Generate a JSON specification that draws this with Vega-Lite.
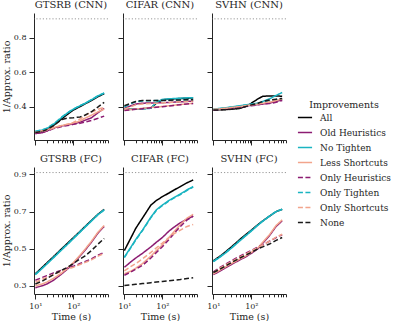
{
"$schema": "https://vega.github.io/schema/vega-lite/v6.json",
"padding": {"left": 1, "top": 0, "right": 0, "bottom": 0},
"config": {
  "font": "DejaVu Serif",
  "view": {"stroke": null},
  "axis": {"grid": false, "domainColor": "#262626", "tickColor": "#262626", "labelColor": "#262626", "titleColor": "#262626", "labelFontSize": 8, "titleFontSize": 9.5, "titleFontWeight": "normal", "tickSize": 5, "labelPadding": 3, "domainWidth": 1, "tickWidth": 1},
  "title": {"font": "DejaVu Serif", "fontSize": 10, "fontWeight": "normal", "offset": 3, "color": "#262626"},
  "style": {"group-title": {"font": "DejaVu Serif", "fontSize": 10, "fontWeight": "normal"}},
  "line": {"strokeWidth": 1.5}
},
"datasets": {"d": [
{"p":"GC","s":"All","t":10,"v":0.25},{"p":"GC","s":"All","t":15,"v":0.258},{"p":"GC","s":"All","t":20,"v":0.268},{"p":"GC","s":"All","t":30,"v":0.29},{"p":"GC","s":"All","t":50,"v":0.33},{"p":"GC","s":"All","t":70,"v":0.355},{"p":"GC","s":"All","t":100,"v":0.38},{"p":"GC","s":"All","t":150,"v":0.4},{"p":"GC","s":"All","t":200,"v":0.415},{"p":"GC","s":"All","t":300,"v":0.435},{"p":"GC","s":"All","t":450,"v":0.458},{"p":"GC","s":"All","t":650,"v":0.475},
{"p":"GC","s":"Old Heuristics","t":10,"v":0.243},{"p":"GC","s":"Old Heuristics","t":15,"v":0.248},{"p":"GC","s":"Old Heuristics","t":20,"v":0.258},{"p":"GC","s":"Old Heuristics","t":30,"v":0.275},{"p":"GC","s":"Old Heuristics","t":50,"v":0.288},{"p":"GC","s":"Old Heuristics","t":70,"v":0.294},{"p":"GC","s":"Old Heuristics","t":100,"v":0.3},{"p":"GC","s":"Old Heuristics","t":150,"v":0.31},{"p":"GC","s":"Old Heuristics","t":200,"v":0.32},{"p":"GC","s":"Old Heuristics","t":300,"v":0.335},{"p":"GC","s":"Old Heuristics","t":450,"v":0.365},{"p":"GC","s":"Old Heuristics","t":650,"v":0.39},
{"p":"GC","s":"No Tighten","t":10,"v":0.255},{"p":"GC","s":"No Tighten","t":15,"v":0.263},{"p":"GC","s":"No Tighten","t":20,"v":0.273},{"p":"GC","s":"No Tighten","t":30,"v":0.297},{"p":"GC","s":"No Tighten","t":50,"v":0.338},{"p":"GC","s":"No Tighten","t":70,"v":0.363},{"p":"GC","s":"No Tighten","t":100,"v":0.385},{"p":"GC","s":"No Tighten","t":150,"v":0.405},{"p":"GC","s":"No Tighten","t":200,"v":0.418},{"p":"GC","s":"No Tighten","t":300,"v":0.44},{"p":"GC","s":"No Tighten","t":450,"v":0.463},{"p":"GC","s":"No Tighten","t":650,"v":0.48},
{"p":"GC","s":"Less Shortcuts","t":10,"v":0.255},{"p":"GC","s":"Less Shortcuts","t":15,"v":0.26},{"p":"GC","s":"Less Shortcuts","t":20,"v":0.265},{"p":"GC","s":"Less Shortcuts","t":30,"v":0.278},{"p":"GC","s":"Less Shortcuts","t":50,"v":0.29},{"p":"GC","s":"Less Shortcuts","t":70,"v":0.297},{"p":"GC","s":"Less Shortcuts","t":100,"v":0.303},{"p":"GC","s":"Less Shortcuts","t":150,"v":0.317},{"p":"GC","s":"Less Shortcuts","t":200,"v":0.332},{"p":"GC","s":"Less Shortcuts","t":300,"v":0.35},{"p":"GC","s":"Less Shortcuts","t":450,"v":0.37},{"p":"GC","s":"Less Shortcuts","t":650,"v":0.385},
{"p":"GC","s":"Only Heuristics","t":10,"v":0.245},{"p":"GC","s":"Only Heuristics","t":15,"v":0.25},{"p":"GC","s":"Only Heuristics","t":20,"v":0.258},{"p":"GC","s":"Only Heuristics","t":30,"v":0.272},{"p":"GC","s":"Only Heuristics","t":50,"v":0.284},{"p":"GC","s":"Only Heuristics","t":70,"v":0.29},{"p":"GC","s":"Only Heuristics","t":100,"v":0.297},{"p":"GC","s":"Only Heuristics","t":150,"v":0.303},{"p":"GC","s":"Only Heuristics","t":200,"v":0.31},{"p":"GC","s":"Only Heuristics","t":300,"v":0.32},{"p":"GC","s":"Only Heuristics","t":450,"v":0.332},{"p":"GC","s":"Only Heuristics","t":650,"v":0.345},
{"p":"GC","s":"Only Tighten","t":10,"v":0.257},{"p":"GC","s":"Only Tighten","t":15,"v":0.265},{"p":"GC","s":"Only Tighten","t":20,"v":0.275},{"p":"GC","s":"Only Tighten","t":30,"v":0.299},{"p":"GC","s":"Only Tighten","t":50,"v":0.34},{"p":"GC","s":"Only Tighten","t":70,"v":0.364},{"p":"GC","s":"Only Tighten","t":100,"v":0.386},{"p":"GC","s":"Only Tighten","t":150,"v":0.406},{"p":"GC","s":"Only Tighten","t":200,"v":0.419},{"p":"GC","s":"Only Tighten","t":300,"v":0.441},{"p":"GC","s":"Only Tighten","t":450,"v":0.462},{"p":"GC","s":"Only Tighten","t":650,"v":0.478},
{"p":"GC","s":"Only Shortcuts","t":10,"v":0.25},{"p":"GC","s":"Only Shortcuts","t":15,"v":0.255},{"p":"GC","s":"Only Shortcuts","t":20,"v":0.262},{"p":"GC","s":"Only Shortcuts","t":30,"v":0.276},{"p":"GC","s":"Only Shortcuts","t":50,"v":0.29},{"p":"GC","s":"Only Shortcuts","t":70,"v":0.298},{"p":"GC","s":"Only Shortcuts","t":100,"v":0.308},{"p":"GC","s":"Only Shortcuts","t":150,"v":0.328},{"p":"GC","s":"Only Shortcuts","t":200,"v":0.348},{"p":"GC","s":"Only Shortcuts","t":300,"v":0.368},{"p":"GC","s":"Only Shortcuts","t":450,"v":0.385},{"p":"GC","s":"Only Shortcuts","t":650,"v":0.395},
{"p":"GC","s":"None","t":10,"v":0.25},{"p":"GC","s":"None","t":15,"v":0.256},{"p":"GC","s":"None","t":20,"v":0.266},{"p":"GC","s":"None","t":30,"v":0.29},{"p":"GC","s":"None","t":50,"v":0.325},{"p":"GC","s":"None","t":70,"v":0.333},{"p":"GC","s":"None","t":100,"v":0.335},{"p":"GC","s":"None","t":150,"v":0.34},{"p":"GC","s":"None","t":200,"v":0.35},{"p":"GC","s":"None","t":300,"v":0.37},{"p":"GC","s":"None","t":450,"v":0.398},{"p":"GC","s":"None","t":650,"v":0.425},

{"p":"CC","s":"All","t":10,"v":0.385},{"p":"CC","s":"All","t":15,"v":0.385},{"p":"CC","s":"All","t":20,"v":0.386},{"p":"CC","s":"All","t":30,"v":0.388},{"p":"CC","s":"All","t":50,"v":0.392},{"p":"CC","s":"All","t":70,"v":0.42},{"p":"CC","s":"All","t":100,"v":0.44},{"p":"CC","s":"All","t":150,"v":0.443},{"p":"CC","s":"All","t":200,"v":0.445},{"p":"CC","s":"All","t":300,"v":0.447},{"p":"CC","s":"All","t":450,"v":0.449},{"p":"CC","s":"All","t":650,"v":0.45},
{"p":"CC","s":"Old Heuristics","t":10,"v":0.39},{"p":"CC","s":"Old Heuristics","t":15,"v":0.405},{"p":"CC","s":"Old Heuristics","t":20,"v":0.415},{"p":"CC","s":"Old Heuristics","t":30,"v":0.42},{"p":"CC","s":"Old Heuristics","t":50,"v":0.421},{"p":"CC","s":"Old Heuristics","t":70,"v":0.422},{"p":"CC","s":"Old Heuristics","t":100,"v":0.423},{"p":"CC","s":"Old Heuristics","t":150,"v":0.424},{"p":"CC","s":"Old Heuristics","t":200,"v":0.426},{"p":"CC","s":"Old Heuristics","t":300,"v":0.428},{"p":"CC","s":"Old Heuristics","t":450,"v":0.43},{"p":"CC","s":"Old Heuristics","t":650,"v":0.432},
{"p":"CC","s":"No Tighten","t":10,"v":0.383},{"p":"CC","s":"No Tighten","t":15,"v":0.384},{"p":"CC","s":"No Tighten","t":20,"v":0.385},{"p":"CC","s":"No Tighten","t":30,"v":0.387},{"p":"CC","s":"No Tighten","t":50,"v":0.39},{"p":"CC","s":"No Tighten","t":70,"v":0.425},{"p":"CC","s":"No Tighten","t":100,"v":0.442},{"p":"CC","s":"No Tighten","t":150,"v":0.445},{"p":"CC","s":"No Tighten","t":200,"v":0.447},{"p":"CC","s":"No Tighten","t":300,"v":0.449},{"p":"CC","s":"No Tighten","t":450,"v":0.451},{"p":"CC","s":"No Tighten","t":650,"v":0.452},
{"p":"CC","s":"Less Shortcuts","t":10,"v":0.38},{"p":"CC","s":"Less Shortcuts","t":15,"v":0.383},{"p":"CC","s":"Less Shortcuts","t":20,"v":0.386},{"p":"CC","s":"Less Shortcuts","t":30,"v":0.39},{"p":"CC","s":"Less Shortcuts","t":50,"v":0.395},{"p":"CC","s":"Less Shortcuts","t":70,"v":0.398},{"p":"CC","s":"Less Shortcuts","t":100,"v":0.401},{"p":"CC","s":"Less Shortcuts","t":150,"v":0.405},{"p":"CC","s":"Less Shortcuts","t":200,"v":0.408},{"p":"CC","s":"Less Shortcuts","t":300,"v":0.412},{"p":"CC","s":"Less Shortcuts","t":450,"v":0.416},{"p":"CC","s":"Less Shortcuts","t":650,"v":0.42},
{"p":"CC","s":"Only Heuristics","t":10,"v":0.378},{"p":"CC","s":"Only Heuristics","t":15,"v":0.381},{"p":"CC","s":"Only Heuristics","t":20,"v":0.384},{"p":"CC","s":"Only Heuristics","t":30,"v":0.388},{"p":"CC","s":"Only Heuristics","t":50,"v":0.393},{"p":"CC","s":"Only Heuristics","t":70,"v":0.396},{"p":"CC","s":"Only Heuristics","t":100,"v":0.399},{"p":"CC","s":"Only Heuristics","t":150,"v":0.403},{"p":"CC","s":"Only Heuristics","t":200,"v":0.407},{"p":"CC","s":"Only Heuristics","t":300,"v":0.411},{"p":"CC","s":"Only Heuristics","t":450,"v":0.415},{"p":"CC","s":"Only Heuristics","t":650,"v":0.418},
{"p":"CC","s":"Only Tighten","t":10,"v":0.398},{"p":"CC","s":"Only Tighten","t":15,"v":0.418},{"p":"CC","s":"Only Tighten","t":20,"v":0.428},{"p":"CC","s":"Only Tighten","t":30,"v":0.433},{"p":"CC","s":"Only Tighten","t":50,"v":0.434},{"p":"CC","s":"Only Tighten","t":70,"v":0.435},{"p":"CC","s":"Only Tighten","t":100,"v":0.436},{"p":"CC","s":"Only Tighten","t":150,"v":0.437},{"p":"CC","s":"Only Tighten","t":200,"v":0.438},{"p":"CC","s":"Only Tighten","t":300,"v":0.44},{"p":"CC","s":"Only Tighten","t":450,"v":0.441},{"p":"CC","s":"Only Tighten","t":650,"v":0.442},
{"p":"CC","s":"Only Shortcuts","t":10,"v":0.385},{"p":"CC","s":"Only Shortcuts","t":15,"v":0.4},{"p":"CC","s":"Only Shortcuts","t":20,"v":0.41},{"p":"CC","s":"Only Shortcuts","t":30,"v":0.415},{"p":"CC","s":"Only Shortcuts","t":50,"v":0.418},{"p":"CC","s":"Only Shortcuts","t":70,"v":0.42},{"p":"CC","s":"Only Shortcuts","t":100,"v":0.422},{"p":"CC","s":"Only Shortcuts","t":150,"v":0.424},{"p":"CC","s":"Only Shortcuts","t":200,"v":0.426},{"p":"CC","s":"Only Shortcuts","t":300,"v":0.428},{"p":"CC","s":"Only Shortcuts","t":450,"v":0.43},{"p":"CC","s":"Only Shortcuts","t":650,"v":0.432},
{"p":"CC","s":"None","t":10,"v":0.405},{"p":"CC","s":"None","t":15,"v":0.42},{"p":"CC","s":"None","t":20,"v":0.43},{"p":"CC","s":"None","t":30,"v":0.435},{"p":"CC","s":"None","t":50,"v":0.435},{"p":"CC","s":"None","t":70,"v":0.435},{"p":"CC","s":"None","t":100,"v":0.436},{"p":"CC","s":"None","t":150,"v":0.437},{"p":"CC","s":"None","t":200,"v":0.438},{"p":"CC","s":"None","t":300,"v":0.439},{"p":"CC","s":"None","t":450,"v":0.44},{"p":"CC","s":"None","t":650,"v":0.44},

{"p":"SC","s":"All","t":10,"v":0.382},{"p":"SC","s":"All","t":15,"v":0.382},{"p":"SC","s":"All","t":20,"v":0.383},{"p":"SC","s":"All","t":30,"v":0.385},{"p":"SC","s":"All","t":50,"v":0.39},{"p":"SC","s":"All","t":70,"v":0.4},{"p":"SC","s":"All","t":100,"v":0.42},{"p":"SC","s":"All","t":150,"v":0.445},{"p":"SC","s":"All","t":200,"v":0.46},{"p":"SC","s":"All","t":300,"v":0.462},{"p":"SC","s":"All","t":450,"v":0.462},{"p":"SC","s":"All","t":650,"v":0.46},
{"p":"SC","s":"Old Heuristics","t":10,"v":0.382},{"p":"SC","s":"Old Heuristics","t":15,"v":0.385},{"p":"SC","s":"Old Heuristics","t":20,"v":0.388},{"p":"SC","s":"Old Heuristics","t":30,"v":0.392},{"p":"SC","s":"Old Heuristics","t":50,"v":0.398},{"p":"SC","s":"Old Heuristics","t":70,"v":0.403},{"p":"SC","s":"Old Heuristics","t":100,"v":0.408},{"p":"SC","s":"Old Heuristics","t":150,"v":0.412},{"p":"SC","s":"Old Heuristics","t":200,"v":0.415},{"p":"SC","s":"Old Heuristics","t":300,"v":0.42},{"p":"SC","s":"Old Heuristics","t":450,"v":0.43},{"p":"SC","s":"Old Heuristics","t":650,"v":0.44},
{"p":"SC","s":"No Tighten","t":10,"v":0.385},{"p":"SC","s":"No Tighten","t":15,"v":0.39},{"p":"SC","s":"No Tighten","t":20,"v":0.393},{"p":"SC","s":"No Tighten","t":30,"v":0.398},{"p":"SC","s":"No Tighten","t":50,"v":0.405},{"p":"SC","s":"No Tighten","t":70,"v":0.41},{"p":"SC","s":"No Tighten","t":100,"v":0.415},{"p":"SC","s":"No Tighten","t":150,"v":0.42},{"p":"SC","s":"No Tighten","t":200,"v":0.43},{"p":"SC","s":"No Tighten","t":300,"v":0.445},{"p":"SC","s":"No Tighten","t":450,"v":0.465},{"p":"SC","s":"No Tighten","t":650,"v":0.482},
{"p":"SC","s":"Less Shortcuts","t":10,"v":0.383},{"p":"SC","s":"Less Shortcuts","t":15,"v":0.387},{"p":"SC","s":"Less Shortcuts","t":20,"v":0.39},{"p":"SC","s":"Less Shortcuts","t":30,"v":0.395},{"p":"SC","s":"Less Shortcuts","t":50,"v":0.4},{"p":"SC","s":"Less Shortcuts","t":70,"v":0.405},{"p":"SC","s":"Less Shortcuts","t":100,"v":0.41},{"p":"SC","s":"Less Shortcuts","t":150,"v":0.415},{"p":"SC","s":"Less Shortcuts","t":200,"v":0.42},{"p":"SC","s":"Less Shortcuts","t":300,"v":0.425},{"p":"SC","s":"Less Shortcuts","t":450,"v":0.435},{"p":"SC","s":"Less Shortcuts","t":650,"v":0.445},
{"p":"SC","s":"Only Heuristics","t":10,"v":0.38},{"p":"SC","s":"Only Heuristics","t":15,"v":0.383},{"p":"SC","s":"Only Heuristics","t":20,"v":0.386},{"p":"SC","s":"Only Heuristics","t":30,"v":0.39},{"p":"SC","s":"Only Heuristics","t":50,"v":0.395},{"p":"SC","s":"Only Heuristics","t":70,"v":0.4},{"p":"SC","s":"Only Heuristics","t":100,"v":0.405},{"p":"SC","s":"Only Heuristics","t":150,"v":0.41},{"p":"SC","s":"Only Heuristics","t":200,"v":0.415},{"p":"SC","s":"Only Heuristics","t":300,"v":0.418},{"p":"SC","s":"Only Heuristics","t":450,"v":0.425},{"p":"SC","s":"Only Heuristics","t":650,"v":0.435},
{"p":"SC","s":"Only Tighten","t":10,"v":0.385},{"p":"SC","s":"Only Tighten","t":15,"v":0.388},{"p":"SC","s":"Only Tighten","t":20,"v":0.392},{"p":"SC","s":"Only Tighten","t":30,"v":0.397},{"p":"SC","s":"Only Tighten","t":50,"v":0.403},{"p":"SC","s":"Only Tighten","t":70,"v":0.408},{"p":"SC","s":"Only Tighten","t":100,"v":0.413},{"p":"SC","s":"Only Tighten","t":150,"v":0.418},{"p":"SC","s":"Only Tighten","t":200,"v":0.425},{"p":"SC","s":"Only Tighten","t":300,"v":0.435},{"p":"SC","s":"Only Tighten","t":450,"v":0.44},{"p":"SC","s":"Only Tighten","t":650,"v":0.445},
{"p":"SC","s":"Only Shortcuts","t":10,"v":0.384},{"p":"SC","s":"Only Shortcuts","t":15,"v":0.387},{"p":"SC","s":"Only Shortcuts","t":20,"v":0.39},{"p":"SC","s":"Only Shortcuts","t":30,"v":0.395},{"p":"SC","s":"Only Shortcuts","t":50,"v":0.4},{"p":"SC","s":"Only Shortcuts","t":70,"v":0.405},{"p":"SC","s":"Only Shortcuts","t":100,"v":0.41},{"p":"SC","s":"Only Shortcuts","t":150,"v":0.415},{"p":"SC","s":"Only Shortcuts","t":200,"v":0.42},{"p":"SC","s":"Only Shortcuts","t":300,"v":0.428},{"p":"SC","s":"Only Shortcuts","t":450,"v":0.437},{"p":"SC","s":"Only Shortcuts","t":650,"v":0.445},
{"p":"SC","s":"None","t":10,"v":0.38},{"p":"SC","s":"None","t":15,"v":0.381},{"p":"SC","s":"None","t":20,"v":0.382},{"p":"SC","s":"None","t":30,"v":0.385},{"p":"SC","s":"None","t":50,"v":0.39},{"p":"SC","s":"None","t":70,"v":0.4},{"p":"SC","s":"None","t":100,"v":0.41},{"p":"SC","s":"None","t":150,"v":0.42},{"p":"SC","s":"None","t":200,"v":0.43},{"p":"SC","s":"None","t":300,"v":0.438},{"p":"SC","s":"None","t":450,"v":0.443},{"p":"SC","s":"None","t":650,"v":0.447},

{"p":"GF","s":"All","t":10,"v":0.365},{"p":"GF","s":"All","t":15,"v":0.399},{"p":"GF","s":"All","t":20,"v":0.423},{"p":"GF","s":"All","t":30,"v":0.457},{"p":"GF","s":"All","t":50,"v":0.501},{"p":"GF","s":"All","t":70,"v":0.529},{"p":"GF","s":"All","t":100,"v":0.559},{"p":"GF","s":"All","t":150,"v":0.593},{"p":"GF","s":"All","t":200,"v":0.618},{"p":"GF","s":"All","t":300,"v":0.652},{"p":"GF","s":"All","t":450,"v":0.686},{"p":"GF","s":"All","t":650,"v":0.712},
{"p":"GF","s":"Old Heuristics","t":10,"v":0.29},{"p":"GF","s":"Old Heuristics","t":15,"v":0.3},{"p":"GF","s":"Old Heuristics","t":20,"v":0.31},{"p":"GF","s":"Old Heuristics","t":30,"v":0.33},{"p":"GF","s":"Old Heuristics","t":50,"v":0.365},{"p":"GF","s":"Old Heuristics","t":70,"v":0.39},{"p":"GF","s":"Old Heuristics","t":100,"v":0.42},{"p":"GF","s":"Old Heuristics","t":150,"v":0.46},{"p":"GF","s":"Old Heuristics","t":200,"v":0.49},{"p":"GF","s":"Old Heuristics","t":300,"v":0.535},{"p":"GF","s":"Old Heuristics","t":450,"v":0.585},{"p":"GF","s":"Old Heuristics","t":650,"v":0.62},
{"p":"GF","s":"No Tighten","t":10,"v":0.36},{"p":"GF","s":"No Tighten","t":15,"v":0.393},{"p":"GF","s":"No Tighten","t":20,"v":0.417},{"p":"GF","s":"No Tighten","t":30,"v":0.451},{"p":"GF","s":"No Tighten","t":50,"v":0.495},{"p":"GF","s":"No Tighten","t":70,"v":0.523},{"p":"GF","s":"No Tighten","t":100,"v":0.554},{"p":"GF","s":"No Tighten","t":150,"v":0.589},{"p":"GF","s":"No Tighten","t":200,"v":0.614},{"p":"GF","s":"No Tighten","t":300,"v":0.649},{"p":"GF","s":"No Tighten","t":450,"v":0.684},{"p":"GF","s":"No Tighten","t":650,"v":0.708},
{"p":"GF","s":"Less Shortcuts","t":10,"v":0.3},{"p":"GF","s":"Less Shortcuts","t":15,"v":0.31},{"p":"GF","s":"Less Shortcuts","t":20,"v":0.32},{"p":"GF","s":"Less Shortcuts","t":30,"v":0.34},{"p":"GF","s":"Less Shortcuts","t":50,"v":0.37},{"p":"GF","s":"Less Shortcuts","t":70,"v":0.395},{"p":"GF","s":"Less Shortcuts","t":100,"v":0.425},{"p":"GF","s":"Less Shortcuts","t":150,"v":0.465},{"p":"GF","s":"Less Shortcuts","t":200,"v":0.495},{"p":"GF","s":"Less Shortcuts","t":300,"v":0.54},{"p":"GF","s":"Less Shortcuts","t":450,"v":0.59},{"p":"GF","s":"Less Shortcuts","t":650,"v":0.625},
{"p":"GF","s":"Only Heuristics","t":10,"v":0.33},{"p":"GF","s":"Only Heuristics","t":15,"v":0.345},{"p":"GF","s":"Only Heuristics","t":20,"v":0.355},{"p":"GF","s":"Only Heuristics","t":30,"v":0.37},{"p":"GF","s":"Only Heuristics","t":50,"v":0.385},{"p":"GF","s":"Only Heuristics","t":70,"v":0.395},{"p":"GF","s":"Only Heuristics","t":100,"v":0.405},{"p":"GF","s":"Only Heuristics","t":150,"v":0.42},{"p":"GF","s":"Only Heuristics","t":200,"v":0.43},{"p":"GF","s":"Only Heuristics","t":300,"v":0.445},{"p":"GF","s":"Only Heuristics","t":450,"v":0.465},{"p":"GF","s":"Only Heuristics","t":650,"v":0.48},
{"p":"GF","s":"Only Tighten","t":10,"v":0.362},{"p":"GF","s":"Only Tighten","t":15,"v":0.395},{"p":"GF","s":"Only Tighten","t":20,"v":0.419},{"p":"GF","s":"Only Tighten","t":30,"v":0.453},{"p":"GF","s":"Only Tighten","t":50,"v":0.497},{"p":"GF","s":"Only Tighten","t":70,"v":0.525},{"p":"GF","s":"Only Tighten","t":100,"v":0.556},{"p":"GF","s":"Only Tighten","t":150,"v":0.591},{"p":"GF","s":"Only Tighten","t":200,"v":0.616},{"p":"GF","s":"Only Tighten","t":300,"v":0.65},{"p":"GF","s":"Only Tighten","t":450,"v":0.685},{"p":"GF","s":"Only Tighten","t":650,"v":0.709},
{"p":"GF","s":"Only Shortcuts","t":10,"v":0.32},{"p":"GF","s":"Only Shortcuts","t":15,"v":0.335},{"p":"GF","s":"Only Shortcuts","t":20,"v":0.345},{"p":"GF","s":"Only Shortcuts","t":30,"v":0.36},{"p":"GF","s":"Only Shortcuts","t":50,"v":0.38},{"p":"GF","s":"Only Shortcuts","t":70,"v":0.39},{"p":"GF","s":"Only Shortcuts","t":100,"v":0.4},{"p":"GF","s":"Only Shortcuts","t":150,"v":0.415},{"p":"GF","s":"Only Shortcuts","t":200,"v":0.425},{"p":"GF","s":"Only Shortcuts","t":300,"v":0.44},{"p":"GF","s":"Only Shortcuts","t":450,"v":0.46},{"p":"GF","s":"Only Shortcuts","t":650,"v":0.475},
{"p":"GF","s":"None","t":10,"v":0.31},{"p":"GF","s":"None","t":15,"v":0.325},{"p":"GF","s":"None","t":20,"v":0.34},{"p":"GF","s":"None","t":30,"v":0.36},{"p":"GF","s":"None","t":50,"v":0.385},{"p":"GF","s":"None","t":70,"v":0.4},{"p":"GF","s":"None","t":100,"v":0.42},{"p":"GF","s":"None","t":150,"v":0.445},{"p":"GF","s":"None","t":200,"v":0.46},{"p":"GF","s":"None","t":300,"v":0.49},{"p":"GF","s":"None","t":450,"v":0.525},{"p":"GF","s":"None","t":650,"v":0.555},

{"p":"CF","s":"All","t":10,"v":0.49},{"p":"CF","s":"All","t":15,"v":0.56},{"p":"CF","s":"All","t":20,"v":0.61},{"p":"CF","s":"All","t":30,"v":0.665},{"p":"CF","s":"All","t":50,"v":0.735},{"p":"CF","s":"All","t":70,"v":0.76},{"p":"CF","s":"All","t":100,"v":0.78},{"p":"CF","s":"All","t":150,"v":0.8},{"p":"CF","s":"All","t":200,"v":0.815},{"p":"CF","s":"All","t":300,"v":0.835},{"p":"CF","s":"All","t":450,"v":0.855},{"p":"CF","s":"All","t":650,"v":0.87},
{"p":"CF","s":"Old Heuristics","t":10,"v":0.4},{"p":"CF","s":"Old Heuristics","t":15,"v":0.43},{"p":"CF","s":"Old Heuristics","t":20,"v":0.45},{"p":"CF","s":"Old Heuristics","t":30,"v":0.475},{"p":"CF","s":"Old Heuristics","t":50,"v":0.51},{"p":"CF","s":"Old Heuristics","t":70,"v":0.535},{"p":"CF","s":"Old Heuristics","t":100,"v":0.56},{"p":"CF","s":"Old Heuristics","t":150,"v":0.595},{"p":"CF","s":"Old Heuristics","t":200,"v":0.615},{"p":"CF","s":"Old Heuristics","t":300,"v":0.64},{"p":"CF","s":"Old Heuristics","t":450,"v":0.66},{"p":"CF","s":"Old Heuristics","t":650,"v":0.675},
{"p":"CF","s":"No Tighten","t":10,"v":0.455},{"p":"CF","s":"No Tighten","t":15,"v":0.51},{"p":"CF","s":"No Tighten","t":20,"v":0.55},{"p":"CF","s":"No Tighten","t":30,"v":0.6},{"p":"CF","s":"No Tighten","t":50,"v":0.67},{"p":"CF","s":"No Tighten","t":70,"v":0.71},{"p":"CF","s":"No Tighten","t":100,"v":0.735},{"p":"CF","s":"No Tighten","t":150,"v":0.76},{"p":"CF","s":"No Tighten","t":200,"v":0.775},{"p":"CF","s":"No Tighten","t":300,"v":0.795},{"p":"CF","s":"No Tighten","t":450,"v":0.817},{"p":"CF","s":"No Tighten","t":650,"v":0.835},
{"p":"CF","s":"Less Shortcuts","t":10,"v":0.365},{"p":"CF","s":"Less Shortcuts","t":15,"v":0.38},{"p":"CF","s":"Less Shortcuts","t":20,"v":0.395},{"p":"CF","s":"Less Shortcuts","t":30,"v":0.42},{"p":"CF","s":"Less Shortcuts","t":50,"v":0.46},{"p":"CF","s":"Less Shortcuts","t":70,"v":0.49},{"p":"CF","s":"Less Shortcuts","t":100,"v":0.52},{"p":"CF","s":"Less Shortcuts","t":150,"v":0.56},{"p":"CF","s":"Less Shortcuts","t":200,"v":0.59},{"p":"CF","s":"Less Shortcuts","t":300,"v":0.63},{"p":"CF","s":"Less Shortcuts","t":450,"v":0.665},{"p":"CF","s":"Less Shortcuts","t":650,"v":0.685},
{"p":"CF","s":"Only Heuristics","t":10,"v":0.357},{"p":"CF","s":"Only Heuristics","t":15,"v":0.375},{"p":"CF","s":"Only Heuristics","t":20,"v":0.39},{"p":"CF","s":"Only Heuristics","t":30,"v":0.41},{"p":"CF","s":"Only Heuristics","t":50,"v":0.45},{"p":"CF","s":"Only Heuristics","t":70,"v":0.48},{"p":"CF","s":"Only Heuristics","t":100,"v":0.51},{"p":"CF","s":"Only Heuristics","t":150,"v":0.55},{"p":"CF","s":"Only Heuristics","t":200,"v":0.58},{"p":"CF","s":"Only Heuristics","t":300,"v":0.62},{"p":"CF","s":"Only Heuristics","t":450,"v":0.655},{"p":"CF","s":"Only Heuristics","t":650,"v":0.675},
{"p":"CF","s":"Only Tighten","t":10,"v":0.452},{"p":"CF","s":"Only Tighten","t":15,"v":0.507},{"p":"CF","s":"Only Tighten","t":20,"v":0.547},{"p":"CF","s":"Only Tighten","t":30,"v":0.597},{"p":"CF","s":"Only Tighten","t":50,"v":0.667},{"p":"CF","s":"Only Tighten","t":70,"v":0.707},{"p":"CF","s":"Only Tighten","t":100,"v":0.732},{"p":"CF","s":"Only Tighten","t":150,"v":0.757},{"p":"CF","s":"Only Tighten","t":200,"v":0.772},{"p":"CF","s":"Only Tighten","t":300,"v":0.792},{"p":"CF","s":"Only Tighten","t":450,"v":0.814},{"p":"CF","s":"Only Tighten","t":650,"v":0.832},
{"p":"CF","s":"Only Shortcuts","t":10,"v":0.38},{"p":"CF","s":"Only Shortcuts","t":15,"v":0.405},{"p":"CF","s":"Only Shortcuts","t":20,"v":0.42},{"p":"CF","s":"Only Shortcuts","t":30,"v":0.445},{"p":"CF","s":"Only Shortcuts","t":50,"v":0.48},{"p":"CF","s":"Only Shortcuts","t":70,"v":0.505},{"p":"CF","s":"Only Shortcuts","t":100,"v":0.53},{"p":"CF","s":"Only Shortcuts","t":150,"v":0.56},{"p":"CF","s":"Only Shortcuts","t":200,"v":0.58},{"p":"CF","s":"Only Shortcuts","t":300,"v":0.6},{"p":"CF","s":"Only Shortcuts","t":450,"v":0.62},{"p":"CF","s":"Only Shortcuts","t":650,"v":0.63},
{"p":"CF","s":"None","t":10,"v":0.302},{"p":"CF","s":"None","t":15,"v":0.305},{"p":"CF","s":"None","t":20,"v":0.308},{"p":"CF","s":"None","t":30,"v":0.312},{"p":"CF","s":"None","t":50,"v":0.317},{"p":"CF","s":"None","t":70,"v":0.32},{"p":"CF","s":"None","t":100,"v":0.323},{"p":"CF","s":"None","t":150,"v":0.327},{"p":"CF","s":"None","t":200,"v":0.33},{"p":"CF","s":"None","t":300,"v":0.334},{"p":"CF","s":"None","t":450,"v":0.339},{"p":"CF","s":"None","t":650,"v":0.343},

{"p":"SF","s":"All","t":10,"v":0.435},{"p":"SF","s":"All","t":15,"v":0.46},{"p":"SF","s":"All","t":20,"v":0.48},{"p":"SF","s":"All","t":30,"v":0.51},{"p":"SF","s":"All","t":50,"v":0.55},{"p":"SF","s":"All","t":70,"v":0.575},{"p":"SF","s":"All","t":100,"v":0.6},{"p":"SF","s":"All","t":150,"v":0.63},{"p":"SF","s":"All","t":200,"v":0.65},{"p":"SF","s":"All","t":300,"v":0.675},{"p":"SF","s":"All","t":450,"v":0.7},{"p":"SF","s":"All","t":650,"v":0.712},
{"p":"SF","s":"Old Heuristics","t":10,"v":0.36},{"p":"SF","s":"Old Heuristics","t":15,"v":0.38},{"p":"SF","s":"Old Heuristics","t":20,"v":0.395},{"p":"SF","s":"Old Heuristics","t":30,"v":0.415},{"p":"SF","s":"Old Heuristics","t":50,"v":0.44},{"p":"SF","s":"Old Heuristics","t":70,"v":0.455},{"p":"SF","s":"Old Heuristics","t":100,"v":0.475},{"p":"SF","s":"Old Heuristics","t":150,"v":0.5},{"p":"SF","s":"Old Heuristics","t":200,"v":0.53},{"p":"SF","s":"Old Heuristics","t":300,"v":0.57},{"p":"SF","s":"Old Heuristics","t":450,"v":0.62},{"p":"SF","s":"Old Heuristics","t":650,"v":0.65},
{"p":"SF","s":"No Tighten","t":10,"v":0.43},{"p":"SF","s":"No Tighten","t":15,"v":0.455},{"p":"SF","s":"No Tighten","t":20,"v":0.474},{"p":"SF","s":"No Tighten","t":30,"v":0.503},{"p":"SF","s":"No Tighten","t":50,"v":0.543},{"p":"SF","s":"No Tighten","t":70,"v":0.568},{"p":"SF","s":"No Tighten","t":100,"v":0.595},{"p":"SF","s":"No Tighten","t":150,"v":0.627},{"p":"SF","s":"No Tighten","t":200,"v":0.648},{"p":"SF","s":"No Tighten","t":300,"v":0.675},{"p":"SF","s":"No Tighten","t":450,"v":0.7},{"p":"SF","s":"No Tighten","t":650,"v":0.713},
{"p":"SF","s":"Less Shortcuts","t":10,"v":0.365},{"p":"SF","s":"Less Shortcuts","t":15,"v":0.385},{"p":"SF","s":"Less Shortcuts","t":20,"v":0.4},{"p":"SF","s":"Less Shortcuts","t":30,"v":0.42},{"p":"SF","s":"Less Shortcuts","t":50,"v":0.445},{"p":"SF","s":"Less Shortcuts","t":70,"v":0.46},{"p":"SF","s":"Less Shortcuts","t":100,"v":0.48},{"p":"SF","s":"Less Shortcuts","t":150,"v":0.505},{"p":"SF","s":"Less Shortcuts","t":200,"v":0.535},{"p":"SF","s":"Less Shortcuts","t":300,"v":0.575},{"p":"SF","s":"Less Shortcuts","t":450,"v":0.625},{"p":"SF","s":"Less Shortcuts","t":650,"v":0.655},
{"p":"SF","s":"Only Heuristics","t":10,"v":0.375},{"p":"SF","s":"Only Heuristics","t":15,"v":0.4},{"p":"SF","s":"Only Heuristics","t":20,"v":0.415},{"p":"SF","s":"Only Heuristics","t":30,"v":0.435},{"p":"SF","s":"Only Heuristics","t":50,"v":0.46},{"p":"SF","s":"Only Heuristics","t":70,"v":0.475},{"p":"SF","s":"Only Heuristics","t":100,"v":0.49},{"p":"SF","s":"Only Heuristics","t":150,"v":0.51},{"p":"SF","s":"Only Heuristics","t":200,"v":0.52},{"p":"SF","s":"Only Heuristics","t":300,"v":0.54},{"p":"SF","s":"Only Heuristics","t":450,"v":0.56},{"p":"SF","s":"Only Heuristics","t":650,"v":0.575},
{"p":"SF","s":"Only Tighten","t":10,"v":0.432},{"p":"SF","s":"Only Tighten","t":15,"v":0.457},{"p":"SF","s":"Only Tighten","t":20,"v":0.476},{"p":"SF","s":"Only Tighten","t":30,"v":0.505},{"p":"SF","s":"Only Tighten","t":50,"v":0.545},{"p":"SF","s":"Only Tighten","t":70,"v":0.57},{"p":"SF","s":"Only Tighten","t":100,"v":0.597},{"p":"SF","s":"Only Tighten","t":150,"v":0.628},{"p":"SF","s":"Only Tighten","t":200,"v":0.649},{"p":"SF","s":"Only Tighten","t":300,"v":0.675},{"p":"SF","s":"Only Tighten","t":450,"v":0.7},{"p":"SF","s":"Only Tighten","t":650,"v":0.712},
{"p":"SF","s":"Only Shortcuts","t":10,"v":0.37},{"p":"SF","s":"Only Shortcuts","t":15,"v":0.395},{"p":"SF","s":"Only Shortcuts","t":20,"v":0.41},{"p":"SF","s":"Only Shortcuts","t":30,"v":0.43},{"p":"SF","s":"Only Shortcuts","t":50,"v":0.455},{"p":"SF","s":"Only Shortcuts","t":70,"v":0.47},{"p":"SF","s":"Only Shortcuts","t":100,"v":0.487},{"p":"SF","s":"Only Shortcuts","t":150,"v":0.507},{"p":"SF","s":"Only Shortcuts","t":200,"v":0.52},{"p":"SF","s":"Only Shortcuts","t":300,"v":0.54},{"p":"SF","s":"Only Shortcuts","t":450,"v":0.562},{"p":"SF","s":"Only Shortcuts","t":650,"v":0.578},
{"p":"SF","s":"None","t":10,"v":0.372},{"p":"SF","s":"None","t":15,"v":0.39},{"p":"SF","s":"None","t":20,"v":0.405},{"p":"SF","s":"None","t":30,"v":0.425},{"p":"SF","s":"None","t":50,"v":0.45},{"p":"SF","s":"None","t":70,"v":0.465},{"p":"SF","s":"None","t":100,"v":0.48},{"p":"SF","s":"None","t":150,"v":0.5},{"p":"SF","s":"None","t":200,"v":0.51},{"p":"SF","s":"None","t":300,"v":0.525},{"p":"SF","s":"None","t":450,"v":0.545},{"p":"SF","s":"None","t":650,"v":0.56}
]},
"spacing": 8,
"vconcat": [
 {"hconcat": [
  {"width": 74, "height": 127, "title": {"text": "GTSRB (CNN)", "font": "DejaVu Serif", "fontWeight": "normal", "fontSize": 10},
   "layer": [
    {"data": {"name": "d"}, "transform": [{"filter": "datum.p == 'GC'"}],
     "mark": {"type": "line", "clip": true},
     "encoding": {
      "x": {"field": "t", "type": "quantitative", "scale": {"type": "log", "domain": [9.2, 820], "nice": false}, "axis": {"values": [10,20,30,40,50,60,70,80,90,100,200,300,400,500,600,700,800], "labels": false, "title": null, "tickSize": {"condition": {"test": "datum.value == 10 || datum.value == 100", "value": 5}, "value": 2.8}}},
      "y": {"field": "v", "type": "quantitative", "scale": {"domain": [0.206, 0.944], "nice": false, "zero": false}, "axis": {"values": [0.4, 0.6, 0.8], "format": ".1f", "title": "1/Approx. ratio", "titlePadding": 2}},
      "color": {"field": "s", "type": "nominal", "title": "Improvements", "scale": {"domain": ["All","Old Heuristics","No Tighten","Less Shortcuts","Only Heuristics","Only Tighten","Only Shortcuts","None"], "range": ["#000000","#8c1c72","#1ab4c1","#f2a48c","#8c1c72","#1ab4c1","#f2a48c","#1a1a1a"]},
        "legend": {"orient": "none", "legendX": 263, "legendY": 87, "symbolType": "stroke", "symbolSize": 200, "symbolStrokeWidth": 1.5, "labelFontSize": 9, "titleFontSize": 9.5, "titleFontWeight": "normal", "labelColor": "#262626", "titleColor": "#262626", "rowPadding": 2, "labelOffset": 7, "titleAnchor": "middle", "titlePadding": 0}},
      "strokeDash": {"field": "s", "type": "nominal", "title": "Improvements", "scale": {"domain": ["All","Old Heuristics","No Tighten","Less Shortcuts","Only Heuristics","Only Tighten","Only Shortcuts","None"], "range": [[1,0],[1,0],[1,0],[1,0],[5,2.5],[5,2.5],[5,2.5],[5,2.5]]}}
     }},
    {"data": {"values": [{}]}, "mark": {"type": "rule", "color": "#999999", "strokeWidth": 1, "strokeDash": [1.2, 2]}, "encoding": {"y": {"datum": 0.91, "type": "quantitative"}}}
   ]},
  {"width": 74, "height": 127, "title": {"text": "CIFAR (CNN)", "font": "DejaVu Serif", "fontWeight": "normal", "fontSize": 10},
   "layer": [
    {"data": {"name": "d"}, "transform": [{"filter": "datum.p == 'CC'"}],
     "mark": {"type": "line", "clip": true},
     "encoding": {
      "x": {"field": "t", "type": "quantitative", "scale": {"type": "log", "domain": [9.2, 820], "nice": false}, "axis": {"values": [10,20,30,40,50,60,70,80,90,100,200,300,400,500,600,700,800], "labels": false, "title": null, "tickSize": {"condition": {"test": "datum.value == 10 || datum.value == 100", "value": 5}, "value": 2.8}}},
      "y": {"field": "v", "type": "quantitative", "scale": {"domain": [0.206, 0.944], "nice": false, "zero": false}, "axis": {"values": [0.4, 0.6, 0.8], "labels": false, "title": null}},
      "color": {"field": "s", "type": "nominal", "title": "Improvements", "scale": {"domain": ["All","Old Heuristics","No Tighten","Less Shortcuts","Only Heuristics","Only Tighten","Only Shortcuts","None"], "range": ["#000000","#8c1c72","#1ab4c1","#f2a48c","#8c1c72","#1ab4c1","#f2a48c","#1a1a1a"]}},
      "strokeDash": {"field": "s", "type": "nominal", "title": "Improvements", "scale": {"domain": ["All","Old Heuristics","No Tighten","Less Shortcuts","Only Heuristics","Only Tighten","Only Shortcuts","None"], "range": [[1,0],[1,0],[1,0],[1,0],[5,2.5],[5,2.5],[5,2.5],[5,2.5]]}}
     }},
    {"data": {"values": [{}]}, "mark": {"type": "rule", "color": "#999999", "strokeWidth": 1, "strokeDash": [1.2, 2]}, "encoding": {"y": {"datum": 0.91, "type": "quantitative"}}}
   ]},
  {"width": 74, "height": 127, "title": {"text": "SVHN (CNN)", "font": "DejaVu Serif", "fontWeight": "normal", "fontSize": 10},
   "layer": [
    {"data": {"name": "d"}, "transform": [{"filter": "datum.p == 'SC'"}],
     "mark": {"type": "line", "clip": true},
     "encoding": {
      "x": {"field": "t", "type": "quantitative", "scale": {"type": "log", "domain": [9.2, 820], "nice": false}, "axis": {"values": [10,20,30,40,50,60,70,80,90,100,200,300,400,500,600,700,800], "labels": false, "title": null, "tickSize": {"condition": {"test": "datum.value == 10 || datum.value == 100", "value": 5}, "value": 2.8}}},
      "y": {"field": "v", "type": "quantitative", "scale": {"domain": [0.206, 0.944], "nice": false, "zero": false}, "axis": {"values": [0.4, 0.6, 0.8], "labels": false, "title": null}},
      "color": {"field": "s", "type": "nominal", "title": "Improvements", "scale": {"domain": ["All","Old Heuristics","No Tighten","Less Shortcuts","Only Heuristics","Only Tighten","Only Shortcuts","None"], "range": ["#000000","#8c1c72","#1ab4c1","#f2a48c","#8c1c72","#1ab4c1","#f2a48c","#1a1a1a"]}},
      "strokeDash": {"field": "s", "type": "nominal", "title": "Improvements", "scale": {"domain": ["All","Old Heuristics","No Tighten","Less Shortcuts","Only Heuristics","Only Tighten","Only Shortcuts","None"], "range": [[1,0],[1,0],[1,0],[1,0],[5,2.5],[5,2.5],[5,2.5],[5,2.5]]}}
     }},
    {"data": {"values": [{}]}, "mark": {"type": "rule", "color": "#999999", "strokeWidth": 1, "strokeDash": [1.2, 2]}, "encoding": {"y": {"datum": 0.91, "type": "quantitative"}}}
   ]}
 ], "spacing": 8},
 {"hconcat": [
  {"width": 74, "height": 127, "title": {"text": "GTSRB (FC)", "font": "DejaVu Serif", "fontWeight": "normal", "fontSize": 10},
   "layer": [
    {"data": {"name": "d"}, "transform": [{"filter": "datum.p == 'GF'"}],
     "mark": {"type": "line", "clip": true},
     "encoding": {
      "x": {"field": "t", "type": "quantitative", "scale": {"type": "log", "domain": [9.2, 820], "nice": false}, "axis": {"values": [10,20,30,40,50,60,70,80,90,100,200,300,400,500,600,700,800], "labelExpr": "datum.value == 10 ? '10¹' : datum.value == 100 ? '10²' : ''", "labelOverlap": false, "labelFlush": false, "title": "Time (s)", "titlePadding": 1, "tickSize": {"condition": {"test": "datum.value == 10 || datum.value == 100", "value": 5}, "value": 2.8}}},
      "y": {"field": "v", "type": "quantitative", "scale": {"domain": [0.256, 0.94], "nice": false, "zero": false}, "axis": {"values": [0.3,0.4,0.5,0.6,0.7,0.8,0.9], "format": ".1f", "title": "1/Approx. ratio", "titlePadding": 2}},
      "color": {"field": "s", "type": "nominal", "title": "Improvements", "scale": {"domain": ["All","Old Heuristics","No Tighten","Less Shortcuts","Only Heuristics","Only Tighten","Only Shortcuts","None"], "range": ["#000000","#8c1c72","#1ab4c1","#f2a48c","#8c1c72","#1ab4c1","#f2a48c","#1a1a1a"]}},
      "strokeDash": {"field": "s", "type": "nominal", "title": "Improvements", "scale": {"domain": ["All","Old Heuristics","No Tighten","Less Shortcuts","Only Heuristics","Only Tighten","Only Shortcuts","None"], "range": [[1,0],[1,0],[1,0],[1,0],[5,2.5],[5,2.5],[5,2.5],[5,2.5]]}}
     }},
    {"data": {"values": [{}]}, "mark": {"type": "rule", "color": "#999999", "strokeWidth": 1, "strokeDash": [1.2, 2]}, "encoding": {"y": {"datum": 0.91, "type": "quantitative"}}}
   ]},
  {"width": 74, "height": 127, "title": {"text": "CIFAR (FC)", "font": "DejaVu Serif", "fontWeight": "normal", "fontSize": 10},
   "layer": [
    {"data": {"name": "d"}, "transform": [{"filter": "datum.p == 'CF'"}],
     "mark": {"type": "line", "clip": true},
     "encoding": {
      "x": {"field": "t", "type": "quantitative", "scale": {"type": "log", "domain": [9.2, 820], "nice": false}, "axis": {"values": [10,20,30,40,50,60,70,80,90,100,200,300,400,500,600,700,800], "labelExpr": "datum.value == 10 ? '10¹' : datum.value == 100 ? '10²' : ''", "labelOverlap": false, "labelFlush": false, "title": "Time (s)", "titlePadding": 1, "tickSize": {"condition": {"test": "datum.value == 10 || datum.value == 100", "value": 5}, "value": 2.8}}},
      "y": {"field": "v", "type": "quantitative", "scale": {"domain": [0.256, 0.94], "nice": false, "zero": false}, "axis": {"values": [0.3,0.4,0.5,0.6,0.7,0.8,0.9], "labels": false, "title": null}},
      "color": {"field": "s", "type": "nominal", "title": "Improvements", "scale": {"domain": ["All","Old Heuristics","No Tighten","Less Shortcuts","Only Heuristics","Only Tighten","Only Shortcuts","None"], "range": ["#000000","#8c1c72","#1ab4c1","#f2a48c","#8c1c72","#1ab4c1","#f2a48c","#1a1a1a"]}},
      "strokeDash": {"field": "s", "type": "nominal", "title": "Improvements", "scale": {"domain": ["All","Old Heuristics","No Tighten","Less Shortcuts","Only Heuristics","Only Tighten","Only Shortcuts","None"], "range": [[1,0],[1,0],[1,0],[1,0],[5,2.5],[5,2.5],[5,2.5],[5,2.5]]}}
     }},
    {"data": {"values": [{}]}, "mark": {"type": "rule", "color": "#999999", "strokeWidth": 1, "strokeDash": [1.2, 2]}, "encoding": {"y": {"datum": 0.91, "type": "quantitative"}}}
   ]},
  {"width": 74, "height": 127, "title": {"text": "SVHN (FC)", "font": "DejaVu Serif", "fontWeight": "normal", "fontSize": 10},
   "layer": [
    {"data": {"name": "d"}, "transform": [{"filter": "datum.p == 'SF'"}],
     "mark": {"type": "line", "clip": true},
     "encoding": {
      "x": {"field": "t", "type": "quantitative", "scale": {"type": "log", "domain": [9.2, 820], "nice": false}, "axis": {"values": [10,20,30,40,50,60,70,80,90,100,200,300,400,500,600,700,800], "labelExpr": "datum.value == 10 ? '10¹' : datum.value == 100 ? '10²' : ''", "labelOverlap": false, "labelFlush": false, "title": "Time (s)", "titlePadding": 1, "tickSize": {"condition": {"test": "datum.value == 10 || datum.value == 100", "value": 5}, "value": 2.8}}},
      "y": {"field": "v", "type": "quantitative", "scale": {"domain": [0.256, 0.94], "nice": false, "zero": false}, "axis": {"values": [0.3,0.4,0.5,0.6,0.7,0.8,0.9], "labels": false, "title": null}},
      "color": {"field": "s", "type": "nominal", "title": "Improvements", "scale": {"domain": ["All","Old Heuristics","No Tighten","Less Shortcuts","Only Heuristics","Only Tighten","Only Shortcuts","None"], "range": ["#000000","#8c1c72","#1ab4c1","#f2a48c","#8c1c72","#1ab4c1","#f2a48c","#1a1a1a"]}},
      "strokeDash": {"field": "s", "type": "nominal", "title": "Improvements", "scale": {"domain": ["All","Old Heuristics","No Tighten","Less Shortcuts","Only Heuristics","Only Tighten","Only Shortcuts","None"], "range": [[1,0],[1,0],[1,0],[1,0],[5,2.5],[5,2.5],[5,2.5],[5,2.5]]}}
     }},
    {"data": {"values": [{}]}, "mark": {"type": "rule", "color": "#999999", "strokeWidth": 1, "strokeDash": [1.2, 2]}, "encoding": {"y": {"datum": 0.91, "type": "quantitative"}}}
   ]}
 ], "spacing": 8}
]
}
